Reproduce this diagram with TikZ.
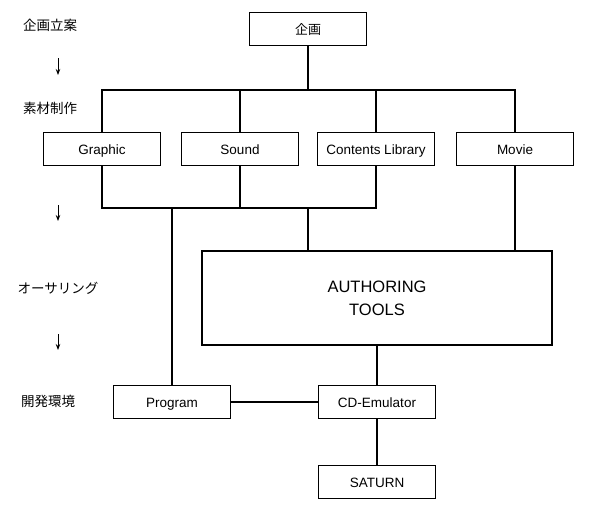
\documentclass[tikz,border=0pt]{standalone}
\usepackage{fontspec}
\setmainfont{Liberation Sans}
\newfontfamily\jpfont{Noto Sans CJK JP}
\usepackage{tikz}
\usetikzlibrary{arrows.meta, positioning, calc}

\begin{document}
\begin{tikzpicture}[x=1pt, y=-1pt,
    box/.style={draw, line width=1.3pt, minimum width=117pt, minimum height=33pt, inner sep=0pt, text height=10pt, text depth=0pt, font=\fontsize{13.5}{15}\selectfont},
    bigbox/.style={draw, line width=2.6pt, minimum width=350pt, minimum height=94pt, inner sep=0pt, align=center, font=\fontsize{16.5}{23}\selectfont},
    phase/.style={font=\jpfont\fontsize{13.5}{15}\selectfont},
    link/.style={line width=1.2pt},
    down/.style={-{Stealth[length=6pt, width=4.5pt]}, line width=0.9pt}
]
\useasboundingbox (0,0) rectangle (596,515);

% phases on the left
\node[phase] (plan) at (50,25) {企画立案};
\node[phase] (make) at (50,108) {素材制作};
\node[phase] (auth) at (58,288) {オーサリング};
\node[phase] (dev) at (48,401) {開発環境};

\coordinate (a1s) at (58,58);  \coordinate (a1e) at (58,75);
\coordinate (a2s) at (58,205); \coordinate (a2e) at (58,221);
\coordinate (a3s) at (58,334); \coordinate (a3e) at (58,350);
\draw[down] (a1s) -- (a1e);
\draw[down] (a2s) -- (a2e);
\draw[down] (a3s) -- (a3e);

% boxes
\node[box, font=\jpfont\fontsize{13}{15}\selectfont] (kikaku) at (308,29) {企画};
\node[box] (graphic) at (102,149) {Graphic};
\node[box] (sound) at (240,149) {Sound};
\node[box] (library) at (376,149) {Contents Library};
\node[box] (movie) at (515,149) {Movie};
\node[bigbox] (tools) at (377,298) {AUTHORING\\TOOLS};
\node[box] (program) at (172,402) {Program};
\node[box] (emulator) at (377,402) {CD-Emulator};
\node[box] (saturn) at (377,482) {SATURN};

% buses
\coordinate (topbus) at (0,90);
\coordinate (lowbus) at (0,208);

\draw[link] (kikaku.south) -- (kikaku.south |- topbus);
\draw[link] (graphic.north) |- (movie.north |- topbus) -- (movie.north);
\draw[link] (sound.north) -- (sound.north |- topbus);
\draw[link] (library.north) -- (library.north |- topbus);

\draw[link] (graphic.south) |- (library.south |- lowbus) -- (library.south);
\draw[link] (sound.south) -- (sound.south |- lowbus);
\draw[link] (program.north |- lowbus) -- (program.north);
\draw[link] (kikaku.south |- lowbus) -- (kikaku.south |- tools.north);
\draw[link] (movie.south) -- (movie.south |- tools.north);

\draw[link] (tools.south -| emulator.north) -- (emulator.north);
\draw[link] (program.east) -- (emulator.west);
\draw[link] (emulator.south) -- (saturn.north);
\end{tikzpicture}
\end{document}
